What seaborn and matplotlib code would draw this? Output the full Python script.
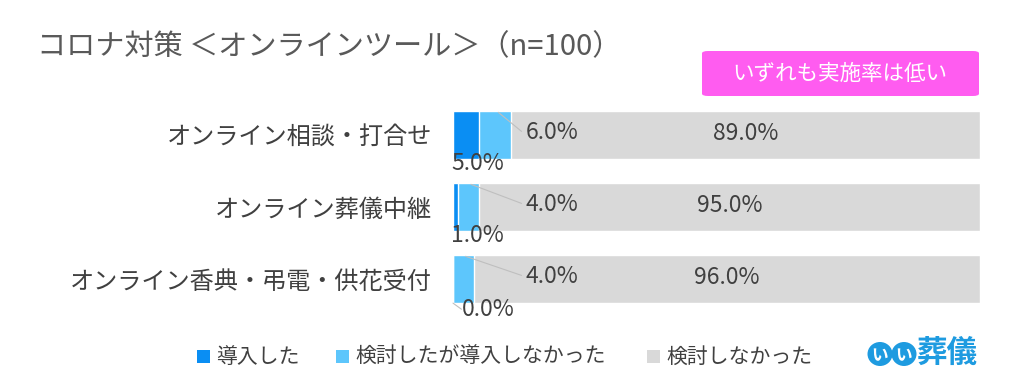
import numpy as np
import pandas as pd
import matplotlib
matplotlib.use('Agg')
from matplotlib import pyplot as plt
from matplotlib.patches import FancyBboxPatch, Ellipse, Rectangle
import seaborn as sb

# データ
categories = ['オンライン相談・打合せ', 'オンライン葬儀中継', 'オンライン香典・弔電・供花受付']
introduced = [5.0, 1.0, 0.0]        # 導入した
considered = [6.0, 4.0, 4.0]        # 検討したが導入しなかった
not_considered = [89.0, 95.0, 96.0]  # 検討しなかった
series_names = ['導入した', '検討したが導入しなかった', '検討しなかった']
colors = ['#0A8EF3', '#5DC6FC', '#D9D9D9']
text_col = '#404040'

sb.set_style('white')
plt.rcParams['font.family'] = ['Noto Sans CJK JP', 'DejaVu Sans']

df = pd.DataFrame({'cat': categories, 'a': introduced, 'b': considered, 'c': not_considered})
df['ab'] = df['a'] + df['b']
df['abc'] = df['ab'] + df['c']

fig = plt.figure(figsize=(10.24, 3.92), dpi=100)
ax = fig.add_axes([453/1024, 77/392, 527/1024, 216/392])

# 積み上げ棒（後ろから順に重ねる）
sb.barplot(data=df, y='cat', x='abc', color=colors[2], orient='h', width=0.67, ax=ax, saturation=1)
sb.barplot(data=df, y='cat', x='ab', color=colors[1], orient='h', width=0.67, ax=ax, saturation=1)
sb.barplot(data=df, y='cat', x='a', color=colors[0], orient='h', width=0.67, ax=ax, saturation=1)

ax.set_xlim(0, 100)
ax.set_ylim(2.5, -0.5)
ax.set_xlabel('')
ax.set_ylabel('')
ax.set_xticks([])
ax.tick_params(axis='y', length=0, pad=15, labelsize=17.4, labelcolor=text_col)
for s in ax.spines.values():
    s.set_visible(False)

fs = 16.5
half = 0.67 / 2
for i in range(len(categories)):
    a, b, c = introduced[i], considered[i], not_considered[i]
    # 検討しなかった：中央
    ax.text(a + b + c / 2, i - 0.02, f'{c:.1f}%', ha='center', va='center', fontsize=fs, color=text_col)
    # 検討したが導入しなかった：引き出し線
    lx = 18.8
    ax.text(lx, i - 0.03, f'{b:.1f}%', ha='center', va='center', fontsize=fs, color=text_col)
    ax.plot([a + b * 0.6, lx - 5.8], [i - half + 0.02, i - 0.05], color='#BFBFBF', lw=0.8)
    # 導入した：棒の下
    if a > 0:
        ax.text(4.7, i + 0.39, f'{a:.1f}%', ha='center', va='center', fontsize=fs, color=text_col, clip_on=False)
    else:
        ax.text(6.6, i + 0.42, f'{a:.1f}%', ha='center', va='center', fontsize=fs, color=text_col, clip_on=False)
        ax.plot([0, 1.6], [i + half, i + 0.42], color='#BFBFBF', lw=0.8, clip_on=False)

# タイトル
fig.text(37/1024, 1 - 47/392, 'コロナ対策 ＜オンラインツール＞（n=100）', fontsize=21,
         color='#595959', ha='left', va='center')

# ピンクのボックス
box = FancyBboxPatch((702/1024, 1 - 96/392), 277/1024, 45/392, boxstyle='round,pad=0,rounding_size=0.006',
                     transform=fig.transFigure, facecolor='#FF5CF0', edgecolor='none')
fig.patches.append(box)
fig.text(840/1024, 1 - 74/392, 'いずれも実施率は低い', fontsize=15.5, color='white', ha='center', va='center')

# 凡例
leg_sq = [197, 336, 647]
for k in range(3):
    fig.patches.append(Rectangle((leg_sq[k]/1024, 1 - 363/392), 13/1024, 13/392, transform=fig.transFigure,
                                 facecolor=colors[k], edgecolor='none'))
    fig.text((leg_sq[k] + 19)/1024, 1 - 357/392, series_names[k], fontsize=15, color=text_col,
             ha='left', va='center')

# ロゴ
logo_col = '#1E9BE0'
for cx in [880, 904]:
    fig.patches.append(Ellipse((cx/1024, 1 - 354/392), 25/1024, 24/392, transform=fig.transFigure,
                               facecolor=logo_col, edgecolor='none'))
    fig.text(cx/1024, 1 - 355/392, 'い', fontsize=12, color='white', ha='center', va='center', fontweight='bold')
fig.text(917/1024, 1 - 353/392, '葬儀', fontsize=22, color=logo_col, ha='left', va='center', fontweight='bold')

fig.savefig('out.png', dpi=100)
